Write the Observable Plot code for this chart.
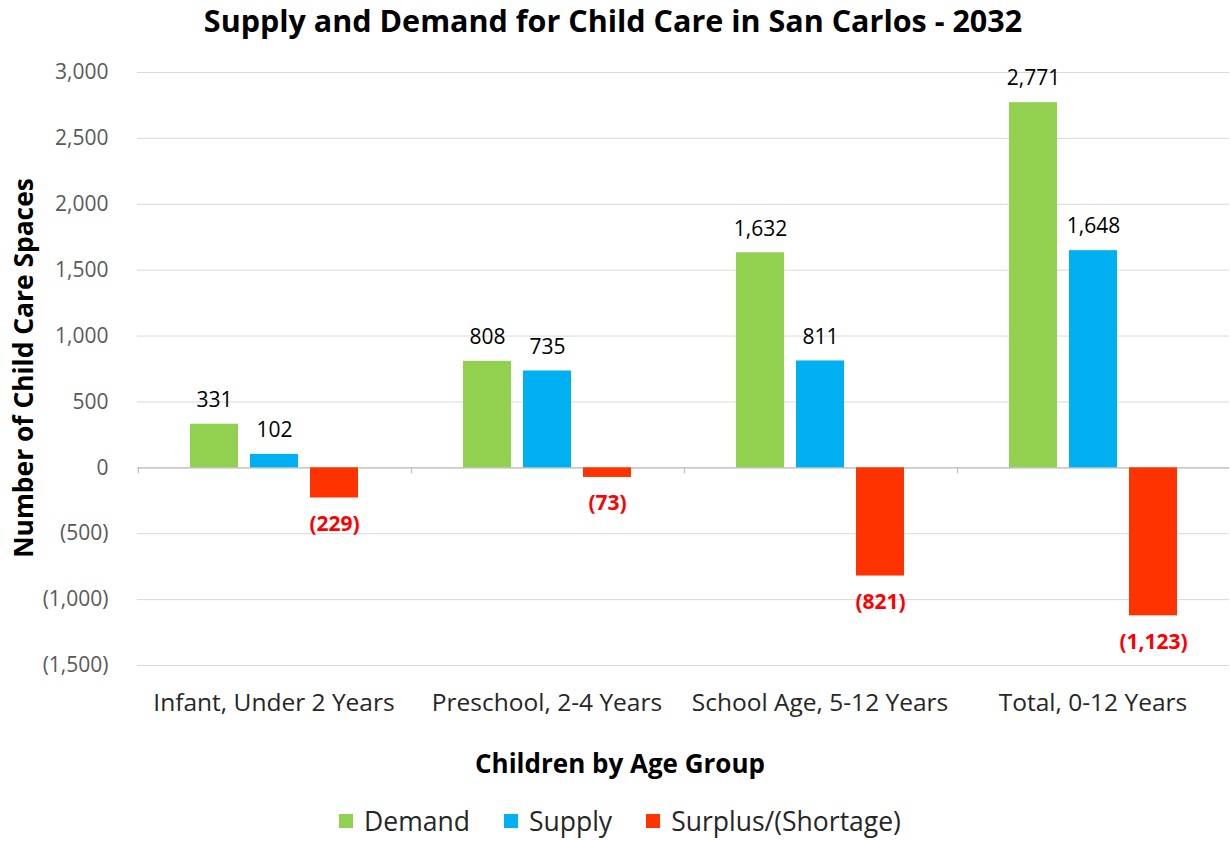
<!DOCTYPE html>
<html>
<head>
<meta charset="utf-8">
<script src="https://cdn.jsdelivr.net/npm/d3@7"></script>
<script src="https://cdn.jsdelivr.net/npm/@observablehq/plot@0.6"></script>
<style>
  html, body { margin: 0; padding: 0; background: #fff; }
  #wrap { position: relative; width: 1230px; height: 841px; font-family: "Open Sans", Lato, sans-serif; }
  #title { position: absolute; left: 0; top: 0; width: 1226px; height: 40px; line-height: 40px; text-align: center; font-weight: bold; font-size: 30.5px; color: #000; }
  #chart { position: absolute; left: 0; top: 40px; }
  #ytitle { position: absolute; left: 23px; top: 368px; transform: translate(-50%, -50%) rotate(-90deg); white-space: nowrap; font-weight: bold; font-size: 26.4px; color: #000; }
  #xtitle { position: absolute; left: 0; top: 730px; width: 1240px; height: 66px; line-height: 66px; text-align: center; font-weight: bold; font-size: 26px; color: #000; }
  #legend { position: absolute; left: 0; top: 796px; width: 1240px; height: 50px; display: flex; justify-content: center; align-items: center; font-size: 26.5px; color: #262626; }
  .item { display: flex; align-items: center; margin: 0 17px; }
  .sw { width: 14px; height: 14px; margin-right: 11px; }
</style>
</head>
<body>
<div id="wrap">
  <div id="title">Supply and Demand for Child Care in San Carlos - 2032</div>
  <div id="chart"></div>
  <div id="ytitle">Number of Child Care Spaces</div>
  <div id="xtitle">Children by Age Group</div>
  <div id="legend"></div>
</div>
<script>
const categories = ["Infant, Under 2 Years", "Preschool, 2-4 Years", "School Age, 5-12 Years", "Total, 0-12 Years"];
const series = ["Demand", "Supply", "Surplus/(Shortage)"];
const demand = [331, 808, 1632, 2771];
const supply = [102, 735, 811, 1648];
const surplus = [-229, -73, -821, -1123];
const colors = ["#92D050", "#00B0F0", "#FF3300"];
const yTicks = [-1500, -1000, -500, 0, 500, 1000, 1500, 2000, 2500, 3000];

const values = [demand, supply, surplus];
const data = categories.flatMap((c, i) => series.map((s, j) => ({category: c, series: s, value: values[j][i]})));
const fmt = d3.format(",");
const acct = v => v < 0 ? "(" + fmt(-v) + ")" : fmt(v);

const chart = Plot.plot({
  width: 1230,
  height: 690,
  marginTop: 32,
  marginBottom: 65,
  marginLeft: 135,
  marginRight: 0,
  style: {fontFamily: "'Open Sans', Lato, sans-serif", background: "#fff"},
  fx: {domain: categories, padding: 0, label: null},
  x: {domain: series, paddingInner: 0.2, paddingOuter: 0.846, axis: null},
  y: {domain: [-1500, 3000], axis: null},
  color: {domain: series, range: colors},
  marks: [
    Plot.gridY(yTicks, {stroke: "#d9d9d9", strokeOpacity: 1}),
    Plot.axisY(yTicks, {tickSize: 0, tickPadding: 29, tickFormat: acct, fontSize: 21, fill: "#595959", label: null}),
    Plot.ruleY([0], {stroke: "#bfbfbf", strokeWidth: 1.3}),
    Plot.ruleX(categories, {fx: d => d, x: () => "Demand", y1: 0, y2: -45, dx: -76, stroke: "#bfbfbf", strokeWidth: 1.3}),
    Plot.barY(data, {fx: "category", x: "series", y: "value", fill: "series"}),
    Plot.text(data.filter(d => d.value >= 0), {fx: "category", x: "series", y: "value", text: d => acct(d.value), dy: -24, fontSize: 21, fill: "#000"}),
    Plot.text(data.filter(d => d.value < 0), {fx: "category", x: "series", y: "value", text: d => acct(d.value), dy: 26, fontSize: 21, fontWeight: "bold", fill: "#FF0000"}),
    Plot.axisFx({anchor: "bottom", tickSize: 0, tickPadding: 28, fontSize: 24.5, fill: "#262626", label: null})
  ]
});
document.getElementById("chart").appendChild(chart);

const legend = document.getElementById("legend");
series.forEach((s, i) => {
  const it = document.createElement("div");
  it.className = "item";
  const sw = document.createElement("div");
  sw.className = "sw";
  sw.style.background = colors[i];
  const tx = document.createElement("span");
  tx.textContent = s;
  it.appendChild(sw);
  it.appendChild(tx);
  legend.appendChild(it);
});
</script>
</body>
</html>
